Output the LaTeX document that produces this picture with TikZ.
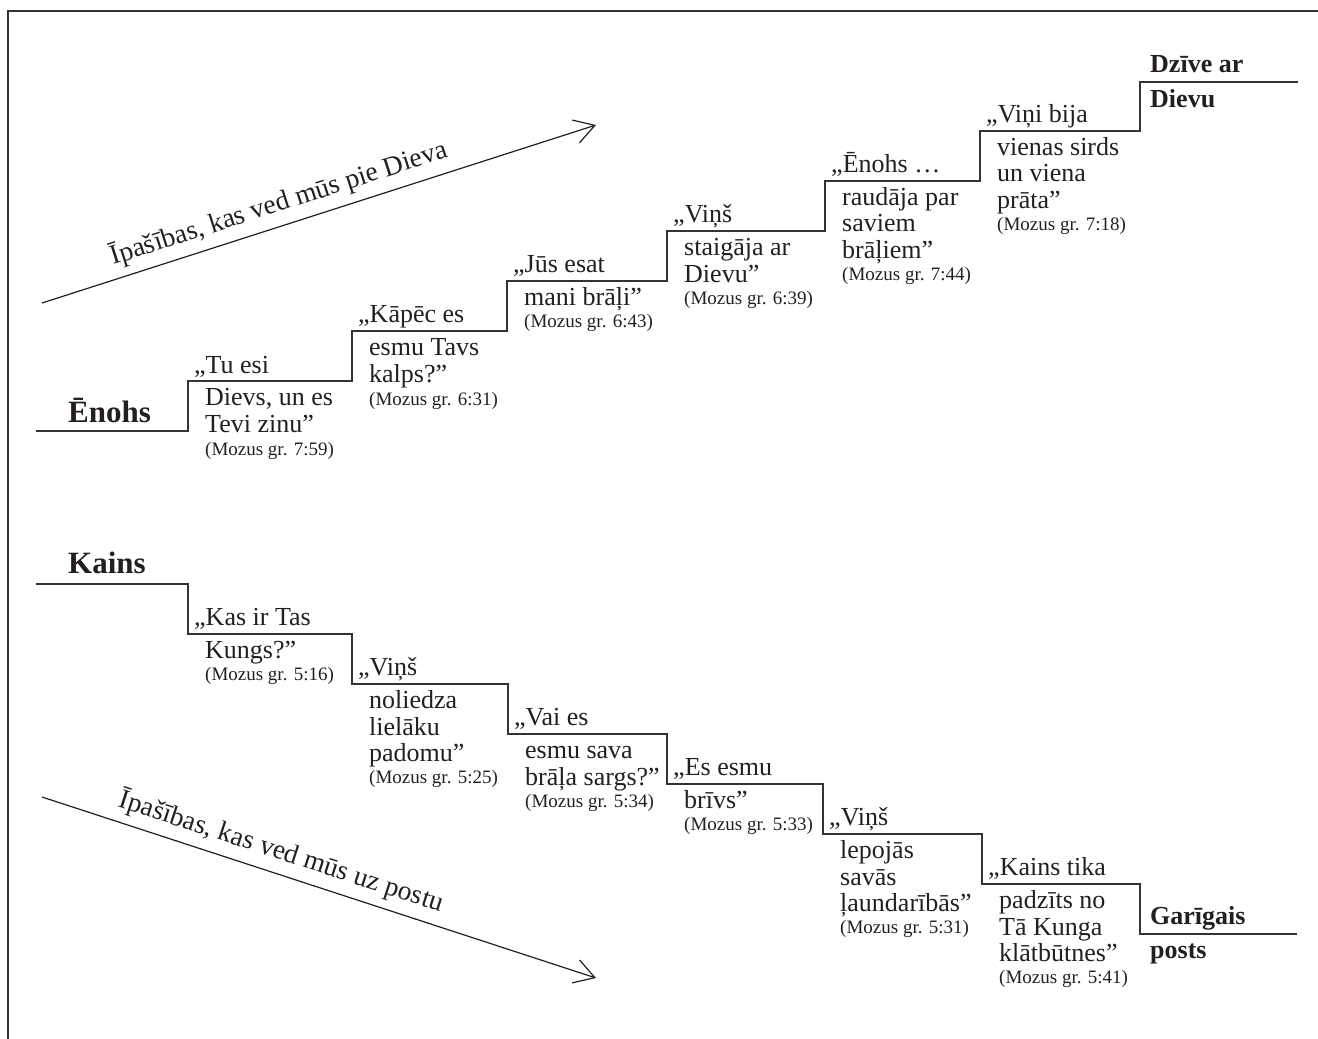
\documentclass[tikz,border=0pt]{standalone}
\usepackage{fontspec}
\setmainfont{Liberation Serif}
\usepackage{tikz}
\usetikzlibrary{arrows.meta}
\usetikzlibrary{positioning}

\definecolor{ink}{HTML}{231F20}
\definecolor{rule}{HTML}{333333}

\tikzset{
  txt/.style={anchor=base west, inner sep=0pt, text=ink, font=\fontsize{26}{28}\selectfont},
  verse/.style={anchor=base west, inner sep=0pt, text=ink, font=\fontsize{19}{20}\selectfont},
  person/.style={anchor=base west, inner sep=0pt, text=ink, font=\fontsize{31}{32}\selectfont\bfseries},
  goal/.style={anchor=base west, inner sep=0pt, text=ink, font=\fontsize{26}{28}\selectfont\bfseries},
  stair/.style={draw=rule, line width=1.6pt},
  way/.style={draw=ink, line width=1.2pt, -{Straight Barb[length=20pt,width=24pt]}},
  waytext/.style={text=ink, inner sep=2pt, font=\fontsize{27.5}{29}\selectfont}
}

\begin{document}
\begin{tikzpicture}[x=1pt, y=-1pt]

\useasboundingbox (0,0) rectangle (1318,1039);

% frame
\draw[rule, line width=1.6pt] (8,1039) -- (8,11) -- (1318,11);

% arrows
\coordinate (up0) at (42,303);
\coordinate (up1) at (596,125);
\coordinate (dn0) at (42,797);
\coordinate (dn1) at (596,978);

\draw[way] (up0) -- (up1) node[waytext, pos=0.44, sloped, above=6pt] (uplabel) {Īpašības, kas ved mūs pie Dieva};
\draw[way] (dn0) -- (dn1) node[waytext, pos=0.42, sloped, above=6pt] (dnlabel) {Īpašības, kas ved mūs uz postu};

% upper stairs
\draw[stair] (36,431) -| (188,381) -| (352,331) -| (507,281) -| (667,231)
  -| (825,181) -| (980,131) -| (1140,82) -- (1298,82);

\node[person] (enohs) at (68,422) {Ēnohs};

\node[txt] (en1q) at (194,373) {„Tu esi};
\node[txt] (en1a) at (205,405) {Dievs, un es};
\node[txt] (en1b) at (205,432) {Tevi zinu”};
\node[verse] (en1r) at (205,455) {(Mozus gr. 7:59)};

\node[txt] (en2q) at (358,322) {„Kāpēc es};
\node[txt] (en2a) at (369,355) {esmu Tavs};
\node[txt] (en2b) at (369,382) {kalps?”};
\node[verse] (en2r) at (369,405) {(Mozus gr. 6:31)};

\node[txt] (en3q) at (513,272) {„Jūs esat};
\node[txt] (en3a) at (524,305) {mani brāļi”};
\node[verse] (en3r) at (524,327) {(Mozus gr. 6:43)};

\node[txt] (en4q) at (673,222) {„Viņš};
\node[txt] (en4a) at (684,255) {staigāja ar};
\node[txt] (en4b) at (684,282) {Dievu”};
\node[verse] (en4r) at (684,304) {(Mozus gr. 6:39)};

\node[txt] (en5q) at (831,172) {„Ēnohs …};
\node[txt] (en5a) at (842,205) {raudāja par};
\node[txt] (en5b) at (842,231) {saviem};
\node[txt] (en5c) at (842,258) {brāļiem”};
\node[verse] (en5r) at (842,280) {(Mozus gr. 7:44)};

\node[txt] (en6q) at (986,122) {„Viņi bija};
\node[txt] (en6a) at (997,155) {vienas sirds};
\node[txt] (en6b) at (997,181) {un viena};
\node[txt] (en6c) at (997,208) {prāta”};
\node[verse] (en6r) at (997,230) {(Mozus gr. 7:18)};

\node[goal] (life1) at (1150,72) {Dzīve ar};
\node[goal] (life2) at (1150,107) {Dievu};

% lower stairs
\draw[stair] (36,584) -| (188,634) -| (352,684) -| (508,734) -| (667,784)
  -| (823,834) -| (982,884) -| (1140,934) -- (1297,934);

\node[person] (kains) at (68,573) {Kains};

\node[txt] (ka1q) at (194,625) {„Kas ir Tas};
\node[txt] (ka1a) at (205,658) {Kungs?”};
\node[verse] (ka1r) at (205,680) {(Mozus gr. 5:16)};

\node[txt] (ka2q) at (358,675) {„Viņš};
\node[txt] (ka2a) at (369,708) {noliedza};
\node[txt] (ka2b) at (369,735) {lielāku};
\node[txt] (ka2c) at (369,761) {padomu”};
\node[verse] (ka2r) at (369,783) {(Mozus gr. 5:25)};

\node[txt] (ka3q) at (514,725) {„Vai es};
\node[txt] (ka3a) at (525,758) {esmu sava};
\node[txt] (ka3b) at (525,785) {brāļa sargs?”};
\node[verse] (ka3r) at (525,807) {(Mozus gr. 5:34)};

\node[txt] (ka4q) at (673,775) {„Es esmu};
\node[txt] (ka4a) at (684,808) {brīvs”};
\node[verse] (ka4r) at (684,830) {(Mozus gr. 5:33)};

\node[txt] (ka5q) at (829,825) {„Viņš};
\node[txt] (ka5a) at (840,858) {lepojās};
\node[txt] (ka5b) at (840,885) {savās};
\node[txt] (ka5c) at (840,911) {ļaundarībās”};
\node[verse] (ka5r) at (840,933) {(Mozus gr. 5:31)};

\node[txt] (ka6q) at (988,875) {„Kains tika};
\node[txt] (ka6a) at (999,908) {padzīts no};
\node[txt] (ka6b) at (999,935) {Tā Kunga};
\node[txt] (ka6c) at (999,961) {klātbūtnes”};
\node[verse] (ka6r) at (999,983) {(Mozus gr. 5:41)};

\node[goal] (ruin1) at (1150,924) {Garīgais};
\node[goal] (ruin2) at (1150,958) {posts};

\end{tikzpicture}
\end{document}
